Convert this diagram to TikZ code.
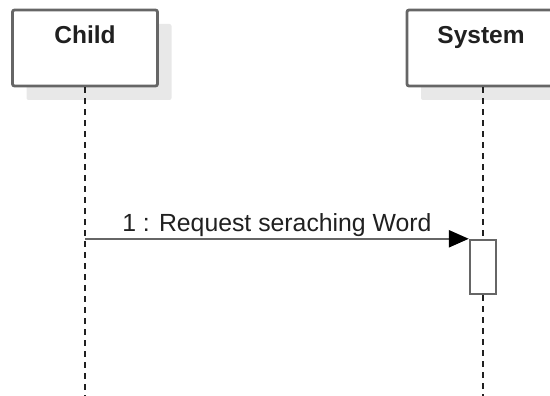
\documentclass[tikz,border=0pt]{standalone}
\usepackage{fontspec}
\setmainfont{Liberation Sans}
\usepackage{xcolor}
\usetikzlibrary{arrows.meta,positioning,shadows}
\definecolor{edgegray}{HTML}{666666}
\definecolor{shadegray}{HTML}{E8E8E8}
\definecolor{inkgray}{HTML}{202020}
\tikzset{
  actor/.style={draw=edgegray, line width=2.8pt, rounded corners=2pt, fill=white, minimum height=76pt,
    drop shadow={shadow xshift=14pt, shadow yshift=-14pt, fill=shadegray, opacity=1}},
  title/.style={font=\bfseries\fontsize{24.5}{28}\selectfont, text=inkgray, anchor=base},
  lifeline/.style={draw=inkgray, line width=2pt, dash pattern=on 6pt off 5pt},
  activation/.style={draw=edgegray, line width=2.4pt, fill=white, minimum width=26pt, minimum height=54pt, inner sep=0pt},
  msg/.style={draw=edgegray, line width=2.4pt, -{Triangle[length=20pt,width=17pt,color=black,fill=black]}},
  msglab/.style={font=\fontsize{24.8}{28}\selectfont, text=inkgray, inner sep=1pt},
}
\begin{document}
\begin{tikzpicture}[x=1pt, y=-1pt]
\path[use as bounding box] (0,0) rectangle (550,396);
\clip (0,0) rectangle (550,396);
\node[actor, minimum width=145pt] (child) at (85,48) {};
\node[actor, minimum width=152pt] (sys) at (483,48) {};
\node[title] (childname) at (85,44) {Child};
\node[title] (sysname) at (481,44) {System};
\node[activation] (act) at (sys.south |- 0,267) {};
\coordinate (childend) at (child.south |- 0,396);
\coordinate (sysend) at (sys.south |- 0,396);
\coordinate (msgstart) at (child.south |- act.north west);
\draw[lifeline] (child.south) -- (childend);
\draw[lifeline] (sys.south) -- (act.north);
\draw[lifeline] (act.south) -- (sysend);
\draw[msg] (msgstart) -- node[msglab, midway, above]{1 : Request seraching Word} (act.north west);
\end{tikzpicture}
\end{document}
